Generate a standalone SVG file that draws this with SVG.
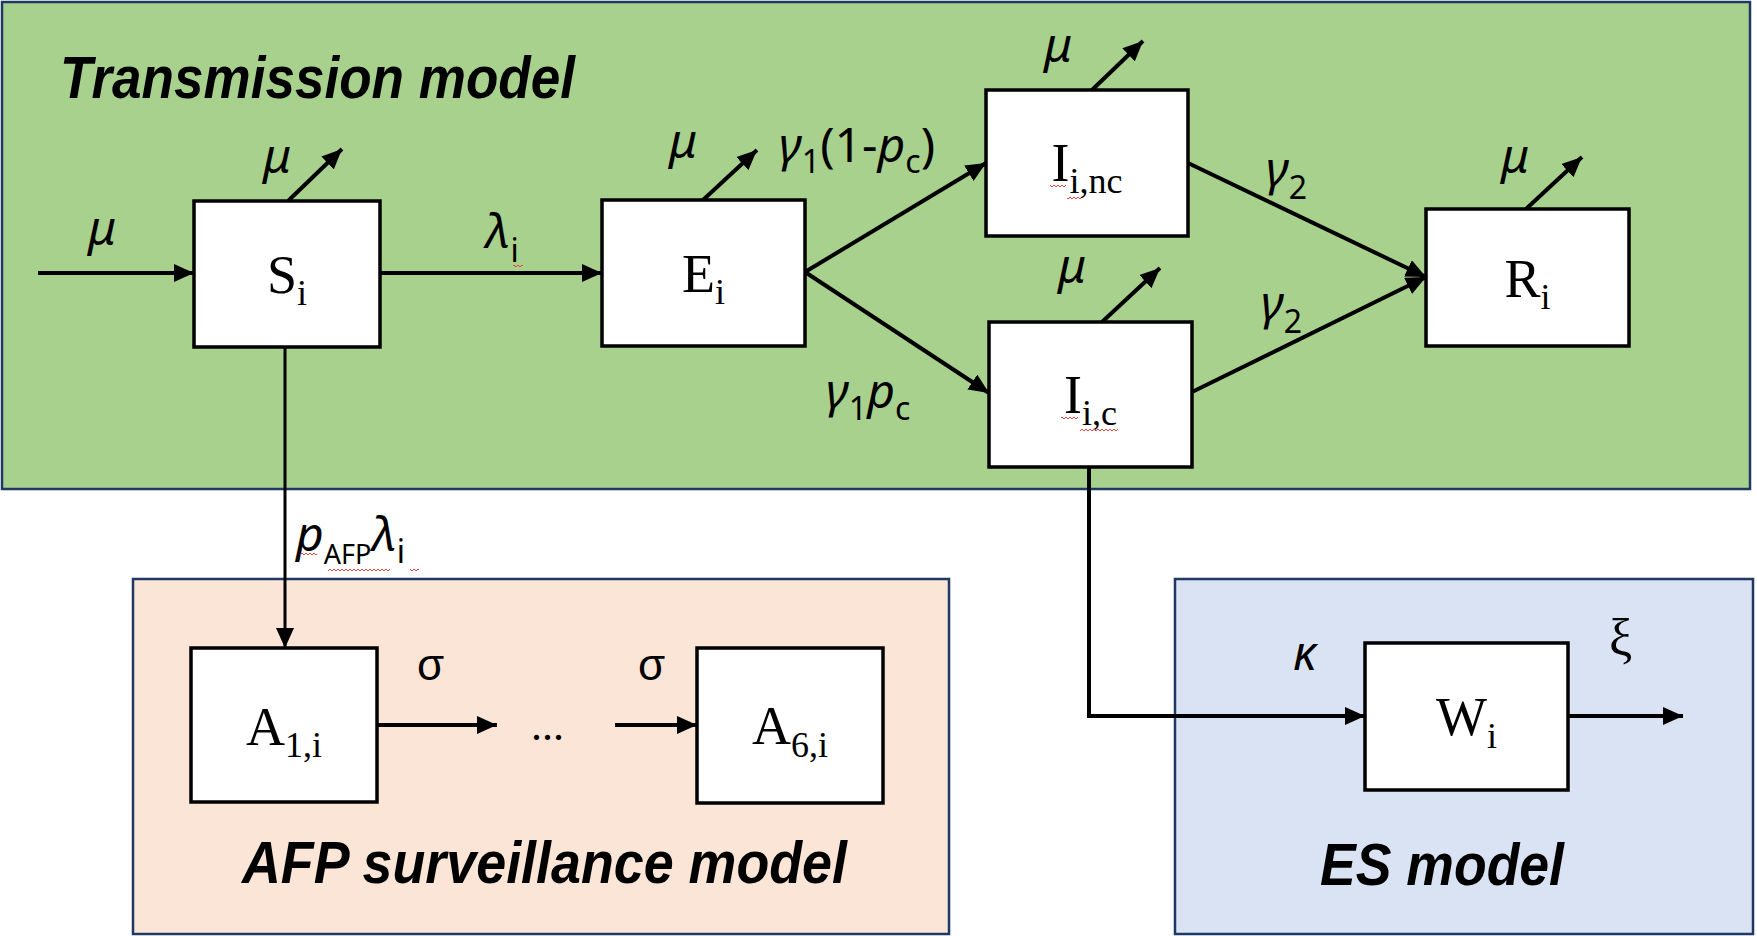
<svg xmlns="http://www.w3.org/2000/svg" width="1757" height="936" viewBox="0 0 1757 936">
<defs>
<style>
.panel{stroke:#1F3864;stroke-width:2.5}
.box{fill:#fff;stroke:#000;stroke-width:3.5}
.title{font-family:"Liberation Sans",Arial,sans-serif;font-weight:bold;font-style:italic;font-size:60px;fill:#000}
.node{font-family:"Liberation Serif","Times New Roman",serif;font-size:54px;fill:#000;text-anchor:middle}
.ns{font-size:36px}
.g{font-family:"Noto Sans","Open Sans",sans-serif;font-size:48px;font-style:italic;fill:#000}
.gs{font-size:32px;font-style:normal}
.up{font-style:normal}
.sig{font-family:"Liberation Sans",Arial,sans-serif;font-size:44px;fill:#000}
.ser{font-family:"Liberation Serif","Times New Roman",serif;fill:#000}
.conn{fill:none;stroke:#000;stroke-width:4}
.sq{fill:url(#wave)}
</style>
<marker id="ah" markerUnits="userSpaceOnUse" markerWidth="21" markerHeight="18" refX="20" refY="9" orient="auto"><path d="M0,0 L20,9 L0,18 z" fill="#000"/></marker>
<pattern id="wave" patternUnits="userSpaceOnUse" width="4" height="4"><path d="M0 3 L2 1 L4 3" fill="none" stroke="#e8403a" stroke-width="1"/></pattern>
</defs>

<g id="transmission-panel">
<rect x="2" y="2" width="1748" height="487" fill="#A9D18E" class="panel"/>
<text class="title" x="60" y="98" textLength="515" lengthAdjust="spacingAndGlyphs">Transmission model</text>
</g>
<g id="afp-panel">
<rect x="133" y="579" width="816" height="355" fill="#FBE5D6" class="panel"/>
<text class="title" x="242" y="883" textLength="605" lengthAdjust="spacingAndGlyphs">AFP surveillance model</text>
</g>
<g id="es-panel">
<rect x="1175" y="579" width="578" height="355" fill="#DAE3F3" class="panel"/>
<text class="title" x="1320" y="885" textLength="244" lengthAdjust="spacingAndGlyphs">ES model</text>
</g>

<g id="connectors">
<line class="conn" x1="38" y1="273" x2="194" y2="273" marker-end="url(#ah)"/>
<line class="conn" x1="288" y1="201" x2="342" y2="149" marker-end="url(#ah)"/>
<line class="conn" x1="380" y1="273" x2="602" y2="273" marker-end="url(#ah)"/>
<line class="conn" x1="703" y1="200" x2="757" y2="150" marker-end="url(#ah)"/>
<line class="conn" x1="805" y1="272" x2="986" y2="163" marker-end="url(#ah)"/>
<line class="conn" x1="805" y1="272" x2="989" y2="393" marker-end="url(#ah)"/>
<line class="conn" x1="1092" y1="90" x2="1143" y2="41" marker-end="url(#ah)"/>
<line class="conn" x1="1102" y1="322" x2="1160" y2="268" marker-end="url(#ah)"/>
<line class="conn" x1="1188" y1="163" x2="1426" y2="277" marker-end="url(#ah)"/>
<line class="conn" x1="1192" y1="392" x2="1426" y2="277" marker-end="url(#ah)"/>
<line class="conn" x1="1526" y1="209" x2="1582" y2="157" marker-end="url(#ah)"/>
<line class="conn" x1="285" y1="347" x2="285" y2="648" marker-end="url(#ah)" style="stroke-width:3"/>
<line class="conn" x1="377" y1="725" x2="497" y2="725" marker-end="url(#ah)"/>
<line class="conn" x1="615" y1="725" x2="697" y2="725" marker-end="url(#ah)"/>
<polyline class="conn" points="1089,467 1089,716 1365,716" marker-end="url(#ah)"/>
<line class="conn" x1="1568" y1="716" x2="1683" y2="716" marker-end="url(#ah)"/>

<text class="g" x="88" y="245">μ</text>
<text class="g" x="263" y="173">μ</text>
<text class="g" x="485" y="248">λ<tspan class="gs" dy="14">i</tspan></text>
<text class="g" x="669" y="158">μ</text>
<text class="g" x="779" y="162">γ<tspan class="gs" dy="11">1</tspan><tspan class="up" dy="-11">(1-</tspan><tspan>p</tspan><tspan class="gs" dy="11">c</tspan><tspan class="up" dy="-11">)</tspan></text>
<text class="g" x="1044" y="62">μ</text>
<text class="g" x="1058" y="283">μ</text>
<text class="g" x="826" y="408">γ<tspan class="gs" dy="12">1</tspan><tspan dy="-12">p</tspan><tspan class="gs" dy="12">c</tspan></text>
<text class="g" x="1266" y="186">γ<tspan class="gs" dy="13">2</tspan></text>
<text class="g" x="1261" y="320">γ<tspan class="gs" dy="13">2</tspan></text>
<text class="g" x="1501" y="173">μ</text>
<text class="g" x="296" y="551">p<tspan class="gs" style="font-size:27px" dy="13">AFP</tspan><tspan dy="-13">λ</tspan><tspan class="gs" dy="12">i</tspan></text>
<text class="sig" x="417" y="680">σ</text>
<text class="sig" x="638" y="680">σ</text>
<text class="ser" x="531" y="740" style="font-size:44px">...</text>
<text class="g" x="1293" y="670">κ</text>
<text class="ser" x="1609" y="655" style="font-size:52px">ξ</text>

<rect class="sq" x="513" y="263" width="10" height="4"/>
<rect class="sq" x="300" y="553" width="17" height="4"/>
<rect class="sq" x="328" y="567" width="62" height="4"/>
<rect class="sq" x="410" y="567" width="9" height="4"/>
</g>

<g id="node-S"><rect class="box" x="194" y="201" width="186" height="146"/><text class="node" x="287" y="293">S<tspan class="ns" dy="12">i</tspan></text></g>
<g id="node-E"><rect class="box" x="602" y="200" width="203" height="146"/><text class="node" x="703.5" y="292">E<tspan class="ns" dy="12">i</tspan></text></g>
<g id="node-Inc"><rect class="box" x="986" y="90" width="202" height="146"/><text class="node" x="1087" y="181">I<tspan class="ns" dy="12">i,nc</tspan></text>
<rect class="sq" x="1050" y="183" width="16" height="4"/><rect class="sq" x="1067" y="196" width="14" height="4"/></g>
<g id="node-Ic"><rect class="box" x="989" y="322" width="203" height="145"/><text class="node" x="1090.5" y="413">I<tspan class="ns" dy="12">i,c</tspan></text>
<rect class="sq" x="1061" y="415" width="17" height="4"/><rect class="sq" x="1080" y="427" width="38" height="4"/></g>
<g id="node-R"><rect class="box" x="1426" y="209" width="203" height="137"/><text class="node" x="1527.5" y="297">R<tspan class="ns" dy="12">i</tspan></text></g>
<g id="node-A1"><rect class="box" x="191" y="648" width="186" height="154"/><text class="node" x="284" y="745">A<tspan class="ns" dy="12">1,i</tspan></text></g>
<g id="node-A6"><rect class="box" x="697" y="648" width="186" height="155"/><text class="node" x="790" y="744">A<tspan class="ns" dy="13">6,i</tspan></text></g>
<g id="node-W"><rect class="box" x="1365" y="643" width="203" height="147"/><text class="node" x="1466.5" y="735">W<tspan class="ns" dy="13">i</tspan></text></g>
</svg>
